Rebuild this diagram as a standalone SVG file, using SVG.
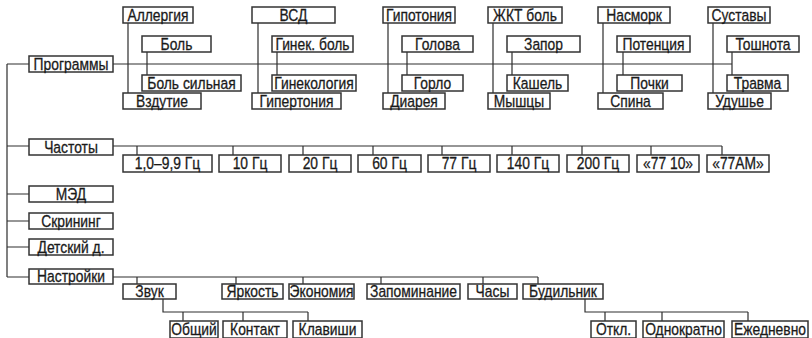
<svg xmlns="http://www.w3.org/2000/svg" width="812" height="338" viewBox="0 0 812 338">
<style>
rect{fill:#fff;stroke:#333;stroke-width:1.5}
text{font-family:"Liberation Sans",Arial,sans-serif;font-size:16.5px;text-anchor:middle;fill:#1a1a1a;stroke:#1a1a1a;stroke-width:.3}
#conn path{fill:none;stroke:#2e2e2e;stroke-width:1.2}
</style>
<g id="conn">
<path d="M7,64V277M7,64H29M7,146H29M7,194H29M7,221H29M7,247H29M7,277H29"/>
<path d="M113,64H732M128,23V93M258,23V93M388,23V93M493,23V93M603,23V93M713,23V93M147,52V75M277,52V75M407,52V75M512,52V75M623,52V75M732,52V75"/>
<path d="M113,146H722M137,146V155M233,146V155M303,146V155M373,146V155M442,146V155M512,146V155M582,146V155M651,146V155M722,146V155"/>
<path d="M113,277H538M137,277V284M236,277V284M303,277V284M381,277V284M483,277V284M538,277V284"/>
<path d="M163,299V312H308M183,312V321M243,312V321M308,312V321"/>
<path d="M585,299V312H748M605,312V321M662,312V321M748,312V321"/>
</g>
<g id="n-programmy"><rect x="29" y="56" width="84" height="16"/><text transform="translate(71,69.8) scale(.84,1)">Программы</text></g>
<g id="n-allergiya"><rect x="123" y="7" width="70" height="16"/><text transform="translate(158,20.8) scale(.84,1)">Аллергия</text></g>
<g id="n-vsd"><rect x="252" y="7" width="83" height="16"/><text transform="translate(293.5,20.8) scale(.84,1)">ВСД</text></g>
<g id="n-gipotoniya"><rect x="383" y="7" width="72" height="16"/><text transform="translate(419,20.8) scale(.84,1)">Гипотония</text></g>
<g id="n-zhkt"><rect x="488" y="7" width="74" height="16"/><text transform="translate(525,20.8) scale(.84,1)">ЖКТ боль</text></g>
<g id="n-nasmork"><rect x="598" y="7" width="72" height="16"/><text transform="translate(634,20.8) scale(.84,1)">Насморк</text></g>
<g id="n-sustavy"><rect x="708" y="7" width="62" height="16"/><text transform="translate(739,20.8) scale(.84,1)">Суставы</text></g>
<g id="n-bol"><rect x="142" y="36" width="69" height="16"/><text transform="translate(176.5,49.8) scale(.84,1)">Боль</text></g>
<g id="n-ginek-bol"><rect x="272" y="36" width="81" height="16"/><text transform="translate(312.5,49.8) scale(.84,1)">Гинек. боль</text></g>
<g id="n-golova"><rect x="402" y="36" width="71" height="16"/><text transform="translate(437.5,49.8) scale(.84,1)">Голова</text></g>
<g id="n-zapor"><rect x="507" y="36" width="73" height="16"/><text transform="translate(543.5,49.8) scale(.84,1)">Запор</text></g>
<g id="n-potenciya"><rect x="617" y="36" width="73" height="16"/><text transform="translate(653.5,49.8) scale(.84,1)">Потенция</text></g>
<g id="n-toshnota"><rect x="727" y="36" width="72" height="16"/><text transform="translate(763,49.8) scale(.84,1)">Тошнота</text></g>
<g id="n-bol-silnaya"><rect x="142" y="75" width="99" height="16"/><text transform="translate(191.5,88.8) scale(.84,1)">Боль сильная</text></g>
<g id="n-ginekologiya"><rect x="272" y="75" width="84" height="16"/><text transform="translate(314,88.8) scale(.84,1)">Гинекология</text></g>
<g id="n-gorlo"><rect x="402" y="75" width="61" height="16"/><text transform="translate(432.5,88.8) scale(.84,1)">Горло</text></g>
<g id="n-kashel"><rect x="507" y="75" width="61" height="16"/><text transform="translate(537.5,88.8) scale(.84,1)">Кашель</text></g>
<g id="n-pochki"><rect x="617" y="75" width="65" height="16"/><text transform="translate(649.5,88.8) scale(.84,1)">Почки</text></g>
<g id="n-travma"><rect x="727" y="75" width="61" height="16"/><text transform="translate(757.5,88.8) scale(.84,1)">Травма</text></g>
<g id="n-vzdutie"><rect x="123" y="93" width="78" height="16"/><text transform="translate(162,106.8) scale(.84,1)">Вздутие</text></g>
<g id="n-gipertoniya"><rect x="252" y="93" width="89" height="16"/><text transform="translate(296.5,106.8) scale(.84,1)">Гипертония</text></g>
<g id="n-diareya"><rect x="383" y="93" width="62" height="16"/><text transform="translate(414,106.8) scale(.84,1)">Диарея</text></g>
<g id="n-myshcy"><rect x="488" y="93" width="62" height="16"/><text transform="translate(519,106.8) scale(.84,1)">Мышцы</text></g>
<g id="n-spina"><rect x="598" y="93" width="65" height="16"/><text transform="translate(630.5,106.8) scale(.84,1)">Спина</text></g>
<g id="n-udushe"><rect x="708" y="93" width="63" height="16"/><text transform="translate(739.5,106.8) scale(.84,1)">Удушье</text></g>
<g id="n-chastoty"><rect x="29" y="139" width="84" height="16"/><text transform="translate(71,152.8) scale(.84,1)">Частоты</text></g>
<g id="n-f1"><rect x="123" y="155" width="89" height="17"/><text transform="translate(167.5,169.3) scale(.84,1)">1,0–9,9 Гц</text></g>
<g id="n-f10"><rect x="219" y="155" width="62" height="17"/><text transform="translate(250,169.3) scale(.84,1)">10 Гц</text></g>
<g id="n-f20"><rect x="289" y="155" width="62" height="17"/><text transform="translate(320,169.3) scale(.84,1)">20 Гц</text></g>
<g id="n-f60"><rect x="358" y="155" width="63" height="17"/><text transform="translate(389.5,169.3) scale(.84,1)">60 Гц</text></g>
<g id="n-f77"><rect x="428" y="155" width="62" height="17"/><text transform="translate(459,169.3) scale(.84,1)">77 Гц</text></g>
<g id="n-f140"><rect x="497" y="155" width="62" height="17"/><text transform="translate(528,169.3) scale(.84,1)">140 Гц</text></g>
<g id="n-f200"><rect x="567" y="155" width="62" height="17"/><text transform="translate(598,169.3) scale(.84,1)">200 Гц</text></g>
<g id="n-f7710"><rect x="637" y="155" width="62" height="17"/><text transform="translate(668,169.3) scale(.84,1)">«77 10»</text></g>
<g id="n-f77am"><rect x="707" y="155" width="62" height="17"/><text transform="translate(738,169.3) scale(.84,1)">«77AM»</text></g>
<g id="n-med"><rect x="29" y="186" width="84" height="16"/><text transform="translate(71,199.8) scale(.84,1)">МЭД</text></g>
<g id="n-skrining"><rect x="29" y="213" width="84" height="16"/><text transform="translate(71,226.8) scale(.84,1)">Скрининг</text></g>
<g id="n-detskiy"><rect x="29" y="239" width="84" height="16"/><text transform="translate(71,252.8) scale(.84,1)">Детский д.</text></g>
<g id="n-nastroyki"><rect x="29" y="269" width="84" height="15"/><text transform="translate(71,281.8) scale(.84,1)">Настройки</text></g>
<g id="n-zvuk"><rect x="123" y="284" width="53" height="15"/><text transform="translate(149.5,296.8) scale(.84,1)">Звук</text></g>
<g id="n-yarkost"><rect x="222" y="284" width="61" height="15"/><text transform="translate(252.5,296.8) scale(.84,1)">Яркость</text></g>
<g id="n-ekonomiya"><rect x="289" y="284" width="65" height="15"/><text transform="translate(321.5,296.8) scale(.84,1)">Экономия</text></g>
<g id="n-zapominanie"><rect x="367" y="284" width="93" height="15"/><text transform="translate(413.5,296.8) scale(.84,1)">Запоминание</text></g>
<g id="n-chasy"><rect x="468" y="284" width="49" height="15"/><text transform="translate(492.5,296.8) scale(.84,1)">Часы</text></g>
<g id="n-budilnik"><rect x="523" y="284" width="80" height="15"/><text transform="translate(563,296.8) scale(.84,1)">Будильник</text></g>
<g id="n-obshchiy"><rect x="170" y="321" width="48" height="17"/><text transform="translate(194,334.8) scale(.84,1)">Общий</text></g>
<g id="n-kontakt"><rect x="223" y="321" width="64" height="17"/><text transform="translate(255,334.8) scale(.84,1)">Контакт</text></g>
<g id="n-klavishi"><rect x="293" y="321" width="69" height="17"/><text transform="translate(327.5,334.8) scale(.84,1)">Клавиши</text></g>
<g id="n-otkl"><rect x="591" y="321" width="45" height="17"/><text transform="translate(613.5,334.8) scale(.84,1)">Откл.</text></g>
<g id="n-odnokratno"><rect x="643" y="321" width="81" height="17"/><text transform="translate(683.5,334.8) scale(.84,1)">Однократно</text></g>
<g id="n-ezhednevno"><rect x="732" y="321" width="76" height="17"/><text transform="translate(770,334.8) scale(.84,1)">Ежедневно</text></g>
</svg>
